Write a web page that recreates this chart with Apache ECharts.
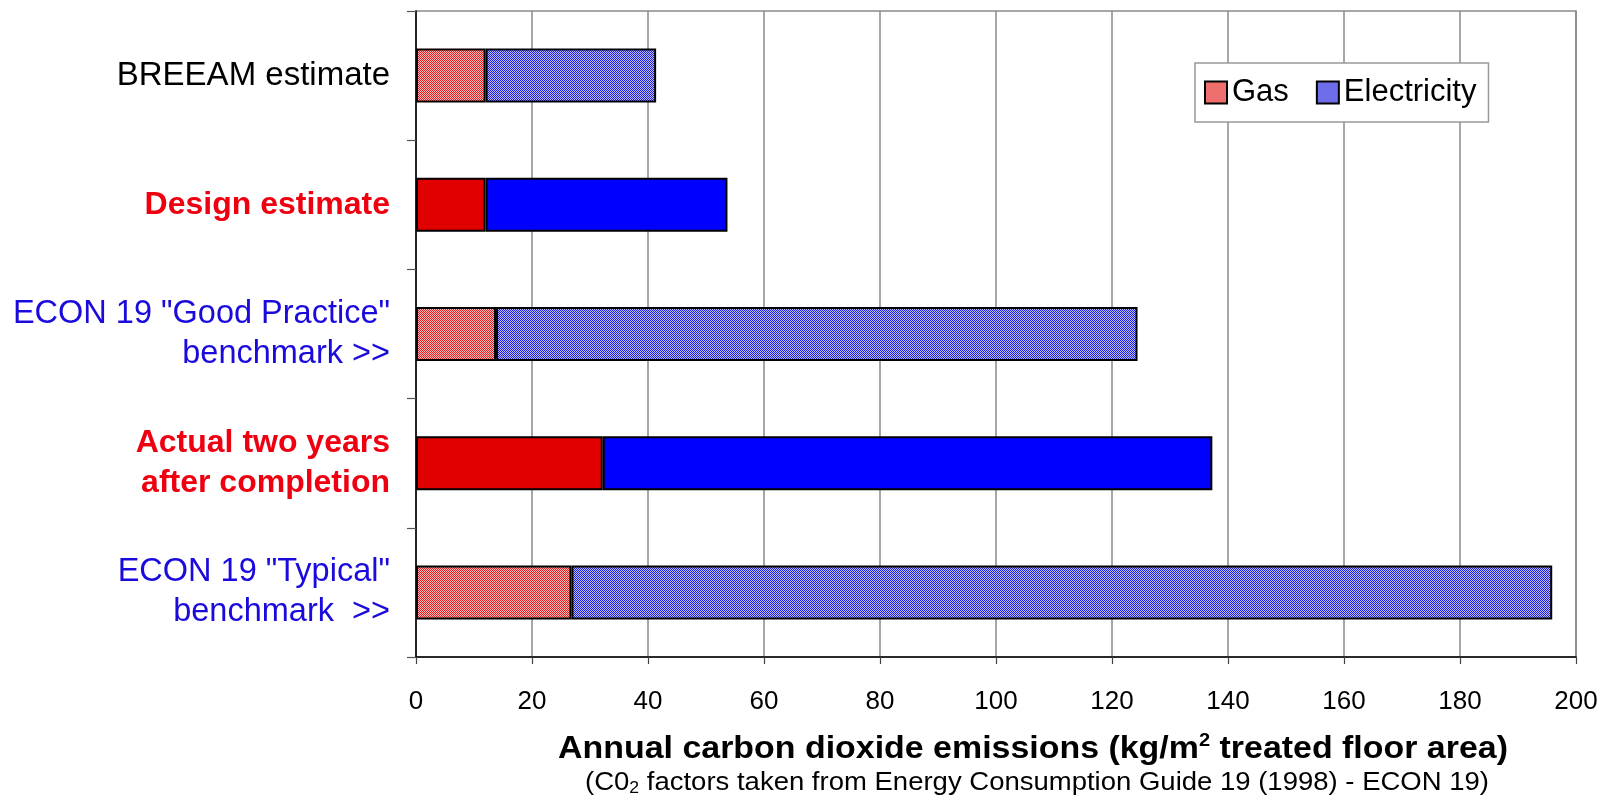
<!DOCTYPE html>
<html>
<head>
<meta charset="utf-8">
<script src="https://cdn.jsdelivr.net/npm/echarts@6/dist/echarts.min.js"></script>
<style>
html,body{margin:0;padding:0;background:#fff;}
#chart{width:1605px;height:797px;}
</style>
</head>
<body>
<div id="chart"></div>
<script>
// ---------- data ----------
const categories = [
  'BREEAM estimate',
  'Design estimate',
  'ECON 19 "Good Practice"\nbenchmark >>',
  'Actual two years\nafter completion',
  'ECON 19 "Typical"\nbenchmark  >>'
];
const gasValues = [12, 12, 13.8, 32.2, 26.8];
const electricityValues = [29.4, 41.7, 110.6, 105.1, 169.1];
const xAxisMin = 0;
const xAxisMax = 200;
const xAxisStep = 20;
const seriesNames = ['Gas', 'Electricity'];
const axisTitle = 'Annual carbon dioxide emissions (kg/m{sup|2} treated floor area)';
const axisNote = '(C0{sub|2} factors taken from Energy Consumption Guide 19 (1998) - ECON 19)';

// ---------- styling ----------
const FONT = '"Liberation Sans", Arial, Helvetica, sans-serif';
const labelKind = {};
labelKind[categories[0]] = 'plain';
labelKind[categories[1]] = 'red';
labelKind[categories[2]] = 'blue';
labelKind[categories[3]] = 'red';
labelKind[categories[4]] = 'blue';

function makePattern(c1, c2) {
  const cv = document.createElement('canvas');
  cv.width = 2; cv.height = 2;
  const ctx = cv.getContext('2d');
  ctx.fillStyle = c2; ctx.fillRect(0, 0, 2, 2);
  ctx.fillStyle = c1; ctx.fillRect(0, 0, 1, 1); ctx.fillRect(1, 1, 1, 1);
  return { image: cv, repeat: 'repeat' };
}
const gasPattern = makePattern('#e02020', '#ffbcbc');
const elecPattern = makePattern('#2020d8', '#bcbcff');
const gasSolid = '#e00000';
const elecSolid = '#0000ff';

function buildData(values, solidColor) {
  return values.map((v, i) => {
    const solid = labelKind[categories[i]] === 'red';
    return solid ? { value: v, itemStyle: { color: solidColor } } : { value: v };
  });
}

const chart = echarts.init(document.getElementById('chart'), null, { renderer: 'canvas' });
const option = {
  animation: false,
  backgroundColor: '#ffffff',
  textStyle: { fontFamily: FONT },
  grid: {
    left: 416, right: 29, top: 11, bottom: 140,
    show: true, borderColor: '#8a8a8a', borderWidth: 1.5, backgroundColor: 'transparent'
  },
  legend: {
    data: seriesNames,
    left: 1195, top: 63,
    orient: 'horizontal',
    icon: 'rect',
    itemWidth: 22, itemHeight: 22, itemGap: 27,
    padding: [14, 12, 14, 9],
    borderColor: '#999', borderWidth: 1.5,
    backgroundColor: '#fff',
    textStyle: { fontSize: 31, color: '#000', fontFamily: FONT, lineHeight: 31 }
  },
  xAxis: {
    type: 'value',
    min: xAxisMin, max: xAxisMax, interval: xAxisStep,
    axisLine: { show: true, lineStyle: { color: '#000', width: 1.5 } },
    axisTick: { show: true, length: 7, lineStyle: { color: '#444', width: 1.2 } },
    axisLabel: { fontSize: 26, color: '#000', margin: 32, fontFamily: FONT },
    splitLine: { show: true, lineStyle: { color: '#8a8a8a', width: 1.5 } }
  },
  yAxis: {
    type: 'category',
    data: categories,
    inverse: true,
    axisLine: { show: true, lineStyle: { color: '#000', width: 1.5 } },
    axisTick: { show: true, length: 9, lineStyle: { color: '#555', width: 1.2 } },
    splitLine: { show: false },
    axisLabel: {
      margin: 26,
      align: 'right',
      formatter: function (val) {
        const k = labelKind[val] || 'plain';
        return val.split('\n').map(l => '{' + k + '|' + l + '}').join('\n');
      },
      rich: {
        plain: { color: '#000', fontSize: 33, lineHeight: 40, fontFamily: FONT },
        red: { color: '#ee0010', fontSize: 32, lineHeight: 40, fontWeight: 'bold', fontFamily: FONT },
        blue: { color: '#1a0adc', fontSize: 32.5, lineHeight: 40, fontFamily: FONT }
      }
    }
  },
  series: [
    {
      name: seriesNames[0], type: 'bar', stack: 'total', barWidth: 54,
      itemStyle: { color: gasPattern, borderColor: '#000', borderWidth: 2 },
      data: buildData(gasValues, gasSolid)
    },
    {
      name: seriesNames[1], type: 'bar', stack: 'total', barWidth: 54,
      itemStyle: { color: elecPattern, borderColor: '#000', borderWidth: 2 },
      data: buildData(electricityValues, elecSolid)
    }
  ],
  graphic: [
    {
      type: 'text', x: 1033, y: 749, scaleX: 1.06, scaleY: 1,
      style: {
        text: axisTitle,
        fill: '#000',
        fontFamily: FONT, fontSize: 32, fontWeight: 'bold',
        align: 'center', verticalAlign: 'middle',
        rich: {
          sup: { fontSize: 19, fontWeight: 'bold', fontFamily: FONT, verticalAlign: 'top', lineHeight: 19, fill: '#000' }
        },
        lineHeight: 36
      }
    },
    {
      type: 'text', x: 1037, y: 783, scaleX: 1.1, scaleY: 1,
      style: {
        text: axisNote,
        fill: '#000',
        fontFamily: FONT, fontSize: 25,
        align: 'center', verticalAlign: 'middle',
        rich: {
          sub: { fontSize: 16, fontFamily: FONT, verticalAlign: 'bottom', lineHeight: 16, fill: '#000' }
        },
        lineHeight: 28
      }
    }
  ]
};
chart.setOption(option);
</script>
</body>
</html>
